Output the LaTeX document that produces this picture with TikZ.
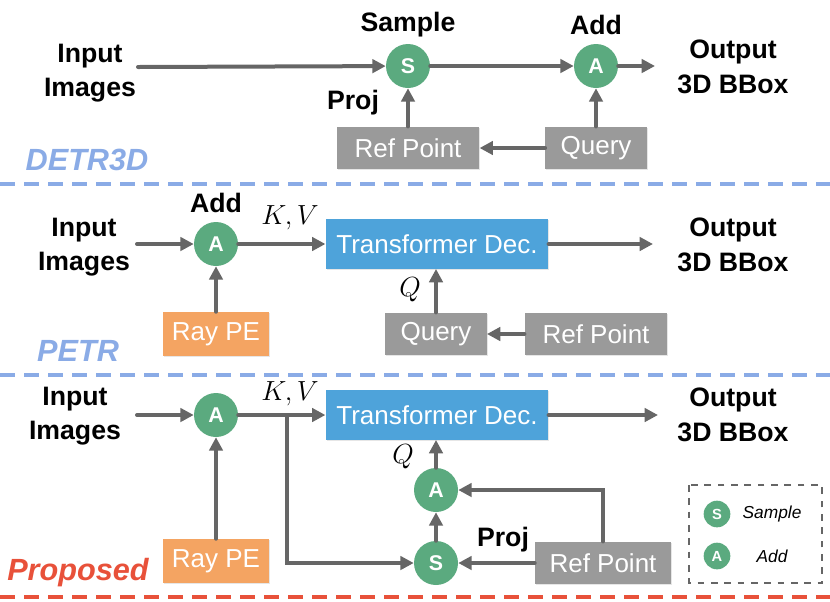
\documentclass[tikz,border=0pt]{standalone}
\usepackage{fontspec}
\setmainfont{Liberation Sans}
\usetikzlibrary{positioning,arrows.meta,calc,shadows}
\definecolor{opgreen}{HTML}{5BAA7F}
\definecolor{boxgray}{HTML}{9A9A9A}
\definecolor{arrgray}{HTML}{666666}
\definecolor{decblue}{HTML}{4EA3DA}
\definecolor{peorange}{HTML}{F4A462}
\definecolor{lineblue}{HTML}{8AABE6}
\definecolor{linered}{HTML}{E8513A}

\begin{document}
\begin{tikzpicture}[
    x=0.75pt, y=-0.75pt,
    op/.style={circle, fill=opgreen, text=white, minimum size=33pt, inner sep=0pt, font=\fontsize{16}{16}\selectfont\bfseries},
    smallop/.style={op, minimum size=20pt, font=\fontsize{11}{11}\selectfont\bfseries},
    box/.style={fill=boxgray, text=white, minimum height=32pt, inner sep=2pt, font=\fontsize{19.5}{22}\selectfont,
      drop shadow={opacity=0.2, shadow xshift=0.8pt, shadow yshift=-0.8pt}},
    dec/.style={box, fill=decblue, minimum width=167pt, minimum height=37pt},
    pe/.style={box, fill=peorange, minimum width=79pt, minimum height=33pt},
    lbl/.style={font=\fontsize{20}{26}\selectfont\bfseries, align=center},
    mlbl/.style={font=\fontsize{22}{26}\selectfont, inner sep=0pt},
    tag/.style={font=\fontsize{23}{26}\selectfont\bfseries\itshape},
    arr/.style={-{Triangle[length=10pt,width=10pt]}, line width=3pt, arrgray, line cap=round},
    sep/.style={line width=2.3pt, dash pattern=on 11pt off 7pt}
  ]
    \useasboundingbox (0,0) rectangle (830,601);

    % DETR3D
    \node[lbl] (in1) at (90,73) {Input\\Images};
    \coordinate (src1) at (138,67);
    \node[op] (s1) at (408,66) {S};
    \node[op] (a1) at (596,66) {A};
    \node[lbl] (smp1) at (408,25) {Sample};
    \node[lbl] (add1) at (596,25) {Add};
    \coordinate (dst1) at (655,66);
    \node[lbl] (out1) at (733,67) {Output\\3D BBox};
    \node[box, minimum width=107pt] (ref1) at (408,148) {Ref Point};
    \node[box, minimum width=76pt] (q1) at (596,148) {Query};
    \node[lbl] (proj1) at (353,103) {Proj};
    \node[tag, lineblue] (t1) at (87,160) {DETR3D};

    \draw[arr] (src1) -- (s1);
    \draw[arr] (s1) -- (a1);
    \draw[arr] (a1) -- (dst1);
    \draw[arr] (ref1) -- (s1);
    \draw[arr] (q1) -- (a1);
    \draw[arr] (q1) -- (ref1);

    \draw[sep, lineblue] (0,184) -- (830,184);

    % PETR
    \node[lbl] (in2) at (84,247) {Input\\Images};
    \coordinate (src2) at (137,244);
    \node[op] (a2) at (216,244) {A};
    \node[lbl] (add2) at (216,203) {Add};
    \node[dec] (dec2) at (437,244) {Transformer Dec.};
    \node[mlbl] (kv2) at (290,218) {$K,V$};
    \coordinate (dst2) at (653,244);
    \node[lbl] (out2) at (733,245) {Output\\3D BBox};
    \node[pe] (pe2) at (216,334) {Ray PE};
    \node[box, minimum width=76pt] (q2) at (436,334) {Query};
    \node[box, minimum width=107pt] (ref2) at (596,334) {Ref Point};
    \node[mlbl] (ql2) at (410,290) {$Q$};
    \node[tag, lineblue] (t2) at (78,351) {PETR};

    \draw[arr] (src2) -- (a2);
    \draw[arr] (a2) -- (dec2);
    \draw[arr] (dec2) -- (dst2);
    \draw[arr] (pe2) -- (a2);
    \draw[arr] (q2.north) -- (q2.north |- dec2.south);
    \draw[arr] (ref2) -- (q2);

    \draw[sep, lineblue] (0,375) -- (830,375);

    % Proposed
    \node[lbl] (in3) at (75,416) {Input\\Images};
    \coordinate (src3) at (137,415);
    \node[op] (a3) at (216,415) {A};
    \node[dec] (dec3) at (437,415) {Transformer Dec.};
    \node[mlbl] (kv3) at (290,394) {$K,V$};
    \coordinate (br3) at (287,415);
    \coordinate (dst3) at (658,415);
    \node[lbl] (out3) at (733,415) {Output\\3D BBox};
    \node[op] (a4) at (436,490) {A};
    \node[op] (s3) at (436,563) {S};
    \node[mlbl] (ql3) at (403,457) {$Q$};
    \node[box, minimum width=102pt] (ref3) at (603,563) {Ref Point};
    \node[lbl] (proj3) at (503,540) {Proj};
    \node[pe] (pe3) at (216,561) {Ray PE};
    \node[tag, linered] (t3) at (78,573) {Proposed};

    \draw[arr] (src3) -- (a3);
    \draw[arr] (a3) -- (dec3);
    \draw[arr] (dec3) -- (dst3);
    \draw[arr] (pe3) -- (a3);
    \draw[arr] (br3) |- (s3);
    \draw[arr] (s3) -- (a4);
    \draw[arr] (a4) -- (a4 |- dec3.south);
    \draw[arr] (ref3) -- (s3);
    \draw[arr] (ref3.north) |- (a4);

    % legend
    \draw[arrgray, line width=2pt, dash pattern=on 5pt off 5pt] (689,485) rectangle (822,583);
    \node[smallop] (ls) at (717,514) {S};
    \node[smallop] (la) at (717,556) {A};
    \node[font=\fontsize{13}{15}\selectfont\itshape] (lst) at (772,514) {Sample};
    \node[font=\fontsize{13}{15}\selectfont\itshape] (lat) at (772,556) {Add};

    \draw[sep, linered] (0,597) -- (830,597);
  \end{tikzpicture}
\end{document}
